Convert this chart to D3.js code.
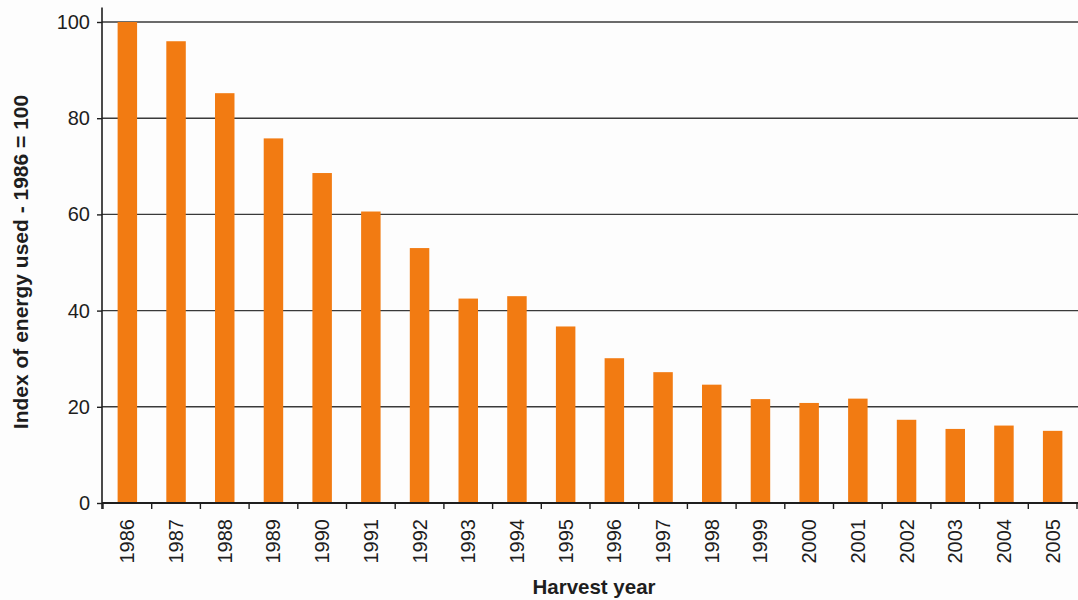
<!DOCTYPE html>
<html>
<head>
<meta charset="utf-8">
<script src="https://cdn.jsdelivr.net/npm/d3@7"></script>
<style>
  html, body { margin: 0; padding: 0; background: #fdfdfd; }
  svg { display: block; font-family: "Liberation Sans", Arial, Helvetica, sans-serif; }
</style>
</head>
<body>
<svg id="chart" width="1078" height="600"></svg>
<script>
// Harvest years and energy-use index (1986 = 100)
const years = ["1986","1987","1988","1989","1990","1991","1992","1993","1994","1995",
               "1996","1997","1998","1999","2000","2001","2002","2003","2004","2005"];
const energyIndex = [100, 96, 85.2, 75.8, 68.6, 60.6, 53, 42.5, 43, 36.7,
                     30.1, 27.2, 24.6, 21.6, 20.8, 21.7, 17.3, 15.4, 16.1, 15.0];
const yTicks = [0, 20, 40, 60, 80, 100];
const xTitle = "Harvest year";
const yTitle = "Index of energy used - 1986 = 100";

const svg = d3.select("#chart");
const plotLeft = 102, plotRight = 1078, plotTop = 22, plotBottom = 503;
const ink = "#1e1e1e";
const barColor = "#f27b12";

const x = d3.scaleBand().domain(years).range([plotLeft + 1, plotRight - 1])
  .paddingInner(0.6).paddingOuter(0.3);
const y = d3.scaleLinear().domain([0, 100]).range([plotBottom, plotTop]);

// horizontal gridlines
svg.append("g").selectAll("line").data(yTicks.filter(d => d > 0)).join("line")
  .attr("x1", plotLeft).attr("x2", plotRight)
  .attr("y1", d => y(d)).attr("y2", d => y(d))
  .attr("stroke", "#3a3a3a").attr("stroke-width", 1.4);

// bars
svg.append("g").selectAll("rect").data(years).join("rect")
  .attr("x", d => x(d))
  .attr("width", x.bandwidth())
  .attr("y", (d, i) => y(energyIndex[i]))
  .attr("height", (d, i) => y(0) - y(energyIndex[i]))
  .attr("fill", barColor);

// y axis
const yAxis = svg.append("g").attr("transform", `translate(${plotLeft},0)`)
  .call(d3.axisLeft(y).tickValues(yTicks).tickSize(5).tickPadding(7));
yAxis.select(".domain").remove();
yAxis.selectAll(".tick line").attr("stroke", ink).attr("stroke-width", 1.4);
yAxis.selectAll(".tick text").attr("fill", ink).attr("font-size", 20);
svg.append("line")
  .attr("x1", plotLeft).attr("x2", plotLeft)
  .attr("y1", y(103)).attr("y2", plotBottom + 6)
  .attr("stroke", ink).attr("stroke-width", 1.6);

// x axis baseline and boundary ticks
svg.append("line")
  .attr("x1", plotLeft).attr("x2", plotRight)
  .attr("y1", plotBottom).attr("y2", plotBottom)
  .attr("stroke", ink).attr("stroke-width", 2);
const step = x.step();
const bounds = d3.range(years.length + 1).map(k => x.range()[0] + k * step);
svg.append("g").selectAll("line").data(bounds).join("line")
  .attr("x1", d => d).attr("x2", d => d)
  .attr("y1", plotBottom).attr("y2", plotBottom + 6)
  .attr("stroke", ink).attr("stroke-width", 1.4);

// rotated year labels
svg.append("g").selectAll("text").data(years).join("text")
  .attr("transform", d => `translate(${x(d) + x.bandwidth() / 2},${plotBottom + 16}) rotate(-90)`)
  .attr("text-anchor", "end")
  .attr("dy", "0.35em")
  .attr("font-size", 20)
  .attr("fill", ink)
  .text(d => d);

// axis titles
svg.append("text")
  .attr("x", 594).attr("y", 594)
  .attr("text-anchor", "middle")
  .attr("font-size", 20.5).attr("font-weight", "bold")
  .attr("fill", ink)
  .text(xTitle);

svg.append("text")
  .attr("transform", "translate(28,262) rotate(-90)")
  .attr("text-anchor", "middle")
  .attr("font-size", 21).attr("font-weight", "bold")
  .attr("fill", ink)
  .text(yTitle);
</script>
</body>
</html>
